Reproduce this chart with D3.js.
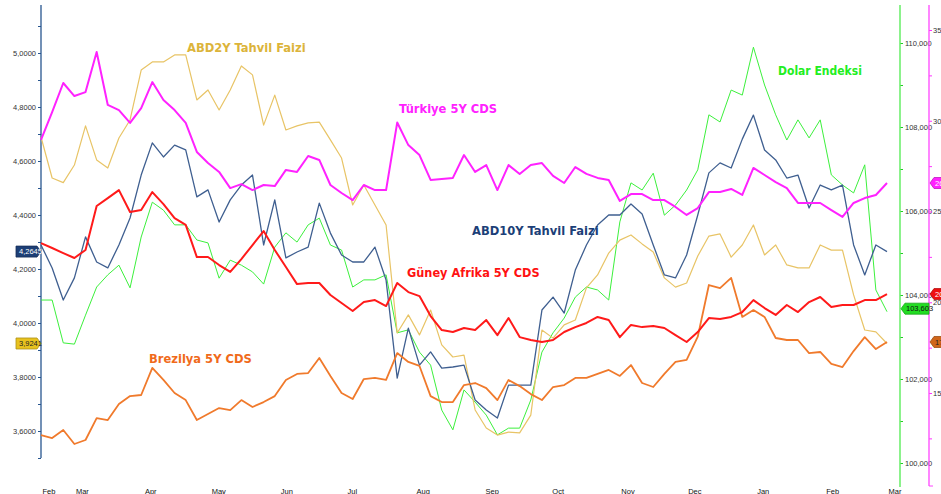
<!DOCTYPE html>
<html>
<head>
<meta charset="utf-8">
<style>
  body { margin: 0; background: #fff; overflow: hidden; }
  .tick text { font-family: "Liberation Sans", Arial, sans-serif; font-size: 7.5px; fill: #333; }
  .lbl { font-family: "DejaVu Sans Condensed", "DejaVu Sans", sans-serif; font-weight: bold; }
  .box text { font-family: "Liberation Sans", Arial, sans-serif; font-size: 7.5px; }
  path.line { fill: none; stroke-linejoin: round; }
</style>
<script src="https://d3js.org/d3.v7.min.js"></script>
</head>
<body>
<script>

// sample dates: every 5 days, Feb 15 2024 .. Mar 1 2025
var dates = d3.timeDay.range(new Date(2024, 1, 15), new Date(2025, 2, 2), 5);

var turkiye = [289.4,304.8,320.8,313.6,315.8,337.9,308.7,305.9,298.8,307.0,
  321.3,311.4,305.9,298.8,282.8,276.7,271.8,262.9,265.1,261.8,
  264.6,264.0,272.9,271.8,280.6,278.4,264.6,260.2,256.3,264.6,
  261.8,261.8,299.0,286.6,281.1,267.4,267.9,268.5,281.1,271.8,
  275.6,261.8,275.6,270.7,275.6,276.7,269.6,265.7,274.5,270.7,
  268.5,267.4,255.8,259.6,259.6,256.3,256.3,252.5,248.1,251.9,
  260.7,260.7,262.4,259.1,274.0,270.1,266.2,262.9,254.7,254.7,
  254.7,250.8,247.0,254.7,257.4,259.1,265.7];

var us2y = [4.689,4.537,4.52,4.585,4.73,4.604,4.574,4.685,4.752,4.937,
  4.967,4.967,4.993,4.993,4.826,4.863,4.789,4.863,4.952,4.919,
  4.733,4.844,4.715,4.730,4.741,4.744,4.678,4.611,4.437,4.511,
  4.437,4.363,3.963,4.030,3.956,4.048,3.919,3.874,3.881,3.678,
  3.611,3.585,3.596,3.593,3.659,3.974,3.944,3.993,4.011,4.130,
  4.178,4.259,4.307,4.326,4.293,4.263,4.167,4.133,4.148,4.248,
  4.322,4.330,4.244,4.289,4.363,4.252,4.289,4.215,4.204,4.204,
  4.289,4.270,4.270,4.104,3.974,3.967,3.9241];

var us10y = [4.289,4.204,4.085,4.167,4.319,4.226,4.204,4.289,4.389,4.548,
  4.667,4.615,4.659,4.641,4.467,4.493,4.374,4.456,4.511,4.548,
  4.289,4.456,4.241,4.263,4.281,4.444,4.333,4.252,4.226,4.226,
  4.281,4.159,3.796,3.981,3.844,3.893,3.833,3.837,3.844,3.715,
  3.678,3.648,3.770,3.770,3.770,4.048,4.096,4.037,4.196,4.289,
  4.363,4.400,4.400,4.441,4.404,4.289,4.178,4.167,4.252,4.400,
  4.556,4.593,4.574,4.681,4.770,4.641,4.604,4.537,4.548,4.426,
  4.511,4.493,4.511,4.289,4.178,4.289,4.2645];

var dxy = [103.88,103.88,102.86,102.83,103.52,104.19,104.48,104.71,104.17,105.38,
  106.21,106.02,105.67,105.67,105.31,105.24,104.40,104.83,104.71,104.55,
  104.26,105.14,105.48,105.26,105.67,105.83,105.19,105.07,104.19,104.36,
  104.36,104.48,103.10,103.17,102.64,102.33,101.26,100.79,101.74,101.45,
  101.14,100.67,100.83,100.83,101.50,102.64,103.10,103.45,103.95,104.19,
  104.12,103.88,105.74,106.67,106.50,106.90,105.90,106.14,106.50,106.98,
  108.29,108.12,108.88,108.76,109.90,109.00,108.29,107.69,108.17,107.74,
  108.17,106.86,106.62,106.43,107.10,104.12,103.603];

var safrika = [232.6,229.9,227.1,224.4,228.8,253.0,257.4,261.8,249.7,250.8,
  260.7,254.1,246.4,242.6,224.9,224.9,220.5,216.7,223.8,231.5,
  239.2,228.8,219.4,210.0,210.6,210.6,204.0,199.6,195.2,200.1,
  201.2,197.9,210.6,205.6,203.4,192.4,184.7,183.6,185.8,184.7,
  190.2,181.9,191.3,180.8,179.2,178.1,179.2,183.6,186.3,188.6,
  191.9,190.2,180.8,187.5,186.3,186.9,185.8,181.9,178.1,183.6,
  191.3,190.8,191.9,194.6,201.2,196.8,193.0,198.5,194.6,200.1,
  202.9,197.4,198.5,198.5,201.2,201.2,204.5];

var brezilya = [126.8,125.2,129.6,121.9,124.1,136.2,135.1,143.9,148.3,148.9,
  163.8,157.2,150.0,146.1,135.1,138.4,141.7,140.6,146.1,142.3,
  145.0,148.3,157.2,160.5,161.0,169.3,159.4,150.0,146.7,157.7,
  158.3,157.2,172.0,167.1,164.9,148.3,145.0,145.0,154.4,155.5,
  152.7,146.1,157.2,153.8,149.4,146.1,153.3,154.4,158.3,158.3,
  160.5,162.7,159.4,165.4,155.5,153.3,160.5,167.1,168.2,181.0,
  209.5,207.8,213.4,191.9,195.7,191.9,180.3,179.2,179.2,172.0,
  172.6,166.0,164.3,173.1,180.8,174.2,178.1];

var leftTicks = d3.range(35, 52).map(function(d) { return d / 10; });
var greenTicks = d3.range(100, 111);
var cdsTicks = d3.range(125, 351, 25);

var width = 941, height = 494;

var tr = d3.formatLocale({decimal: ",", thousands: ".", grouping: [3], currency: ["", ""]});
var f4 = tr.format(".4f"), f3 = tr.format(".3f"), f2 = tr.format(".2f");

var x = d3.scaleTime().domain([new Date(2024, 1, 15), new Date(2025, 2, 1)]).range([41, 887]);
var yL = d3.scaleLinear().domain([3.6, 5.0]).range([431, 53]);
var yG = d3.scaleLinear().domain([100, 110]).range([463, 43]);
var yM = d3.scaleLinear().domain([150, 350]).range([393, 30]);

var svg = d3.select("body").append("svg")
    .attr("width", width)
    .attr("height", height);

// axes
var leftAx = svg.append("g").attr("transform", "translate(41,0)")
    .call(d3.axisLeft(yL).tickValues(leftTicks).tickSize(3).tickPadding(2)
      .tickFormat(function(d) { return Math.round(d * 10) % 2 == 0 ? f4(d) : ""; }));
leftAx.select(".domain").remove();
leftAx.selectAll("line").attr("stroke", "#27558f");
leftAx.append("line").attr("y1", 5).attr("y2", 458).attr("stroke", "#27558f").attr("stroke-width", 1.3);

var greenAx = svg.append("g").attr("transform", "translate(900,0)")
    .call(d3.axisRight(yG).tickValues(greenTicks).tickSize(3).tickPadding(2)
      .tickFormat(function(d) { return d % 2 == 0 ? f3(d) : ""; }));
greenAx.select(".domain").remove();
greenAx.selectAll("line").attr("stroke", "#22cc22");
greenAx.append("line").attr("y1", 5).attr("y2", 487).attr("stroke", "#66ee66").attr("stroke-width", 1.5);

var cdsAx = svg.append("g").attr("transform", "translate(929,0)")
    .call(d3.axisRight(yM).tickValues(cdsTicks).tickSize(3).tickPadding(1)
      .tickFormat(function(d) { return d % 50 == 0 ? f3(d) : ""; }));
cdsAx.select(".domain").remove();
cdsAx.selectAll("line").attr("stroke", "#ff33ff");
cdsAx.append("line").attr("y1", 5).attr("y2", 486).attr("stroke", "#ff44ff").attr("stroke-width", 1.3);
cdsAx.append("line").attr("x2", 4).attr("y1", 486).attr("y2", 486).attr("stroke", "#ff44ff");

// month labels
var months = [new Date(2024, 1, 15)].concat(d3.timeMonth.range(new Date(2024, 2, 1), new Date(2025, 2, 2)));
var bottomAx = svg.append("g").attr("transform", "translate(0,485)")
    .call(d3.axisBottom(x).tickValues(months).tickSize(0).tickPadding(0).tickFormat(d3.timeFormat("%b")));
bottomAx.select(".domain").remove();
bottomAx.selectAll("text").attr("text-anchor", "start").attr("dx", 1).attr("dy", 0).attr("y", 9).style("fill", "#111");

// series
var series = [
  {name: "Dolar Endeksi", values: dxy, y: yG, color: "#3cf03c", w: 1},
  {name: "ABD2Y Tahvil Faizi", values: us2y, y: yL, color: "#e8c466", w: 1.2},
  {name: "ABD10Y Tahvil Faizi", values: us10y, y: yL, color: "#3f5f90", w: 1.3},
  {name: "Brezilya 5Y CDS", values: brezilya, y: yM, color: "#f07a2c", w: 1.8},
  {name: "Güney Afrika 5Y CDS", values: safrika, y: yM, color: "#ff1a1a", w: 2},
  {name: "Türkiye 5Y CDS", values: turkiye, y: yM, color: "#ff22ff", w: 2}
];

series.forEach(function(s) {
  var line = d3.line()
    .x(function(d, i) { return x(dates[i]); })
    .y(function(d) { return s.y(d); });
  svg.append("path").attr("class", "line")
    .attr("d", line(s.values))
    .attr("stroke", s.color)
    .attr("stroke-width", s.w);
});

// series names
var labels = [
  {text: "ABD2Y Tahvil Faizi", x: 187, y: 52, color: "#dcb43a", size: 12.8},
  {text: "Türkiye 5Y CDS", x: 399, y: 113, color: "#ff22ff", size: 12.8},
  {text: "Dolar Endeksi", x: 778, y: 75, color: "#22ee22", size: 12},
  {text: "ABD10Y Tahvil Faizi", x: 472, y: 235, color: "#1c3f78", size: 12.8},
  {text: "Güney Afrika 5Y CDS", x: 407, y: 277, color: "#ff1111", size: 12.6},
  {text: "Brezilya 5Y CDS", x: 149, y: 363, color: "#f06a1a", size: 12.8}
];
svg.selectAll("text.lbl").data(labels).enter().append("text")
  .attr("class", "lbl")
  .attr("x", function(d) { return d.x; })
  .attr("y", function(d) { return d.y; })
  .attr("fill", function(d) { return d.color; })
  .style("font-size", function(d) { return d.size + "px"; })
  .text(function(d) { return d.text; });

// last value boxes
function box(xTip, y, w, pointLeft, fill, txtColor, txt) {
  var h = 11, p = 4, pts;
  if (pointLeft) {
    pts = [[xTip, y], [xTip + p, y - h / 2], [xTip + w, y - h / 2], [xTip + w, y + h / 2], [xTip + p, y + h / 2]];
  } else {
    pts = [[xTip, y], [xTip - p, y - h / 2], [xTip - w, y - h / 2], [xTip - w, y + h / 2], [xTip - p, y + h / 2]];
  }
  var g = svg.append("g").attr("class", "box");
  g.append("path").attr("d", "M" + pts.join("L") + "Z")
    .attr("fill", fill).attr("stroke", d3.color(fill).darker(0.8)).attr("stroke-width", 0.8);
  g.append("text")
    .attr("x", pointLeft ? xTip + p + 1 : xTip - w + 3)
    .attr("y", y + 2.7)
    .attr("fill", txtColor)
    .text(txt);
}

var last = function(a) { return a[a.length - 1]; };
box(41, yL(last(us10y)), 25, false, "#1d3f76", "#fff", f4(last(us10y)));
box(41, yL(last(us2y)), 25, false, "#e8c21e", "#222", f4(last(us2y)));
box(901, yG(last(dxy)) - 3, 28, true, "#22dd22", "#111", f3(last(dxy)));
box(930, yM(last(turkiye)), 20, true, "#ff22ff", "#fff", f2(last(turkiye)));
box(930, yM(last(safrika)), 20, true, "#ee1111", "#fff", f2(last(safrika)));
box(930, yM(last(brezilya)), 20, true, "#d0661a", "#222", f2(last(brezilya)));

</script>
</body>
</html>
